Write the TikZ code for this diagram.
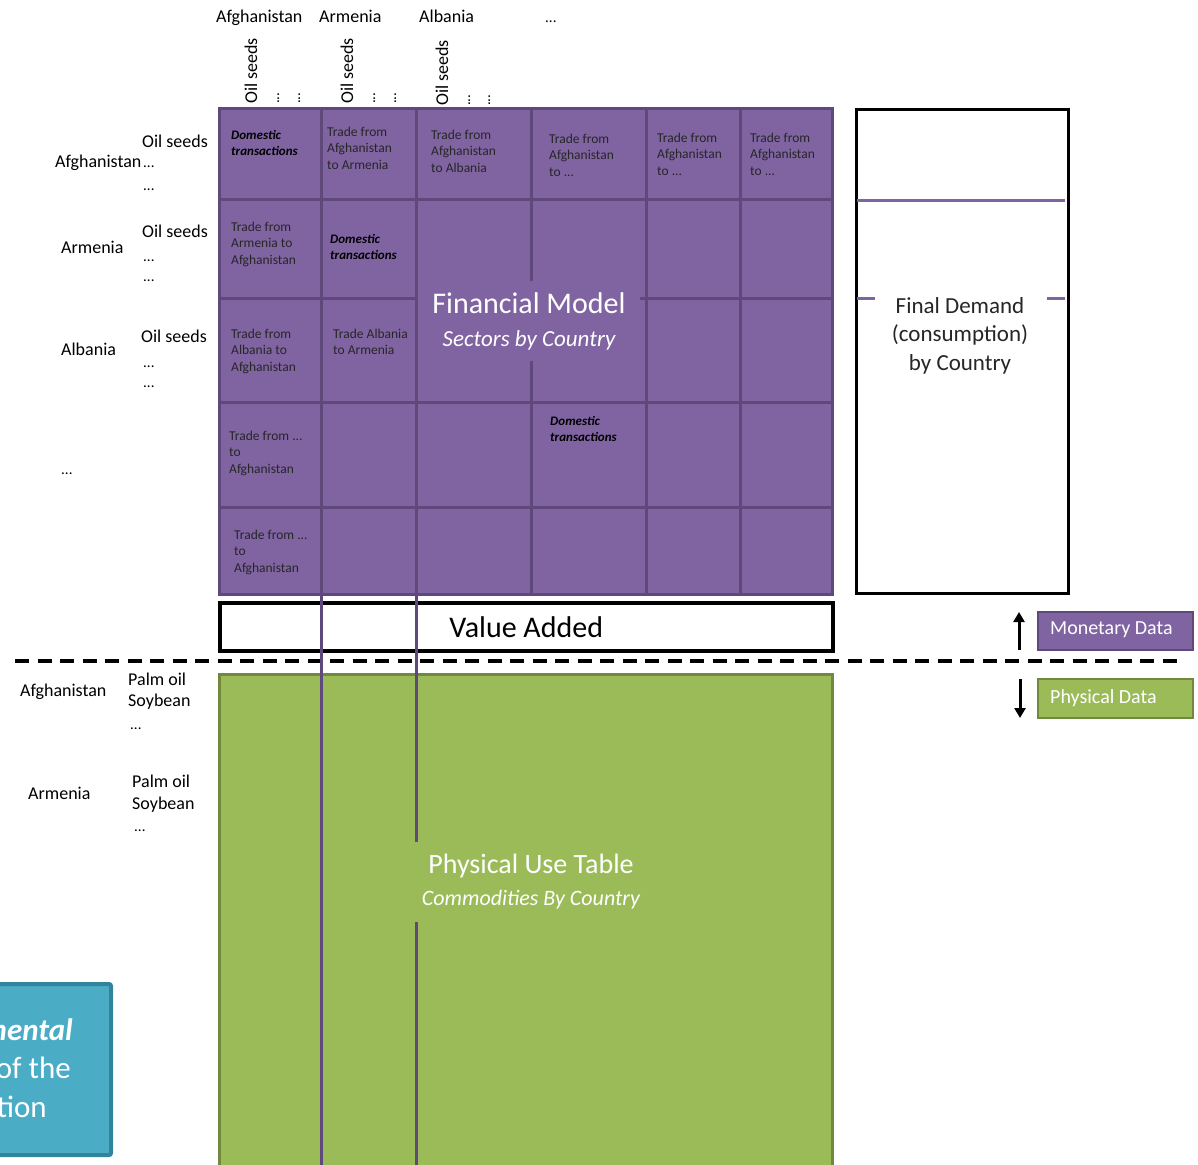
\documentclass[tikz,border=0pt]{standalone}
\usepackage{fontspec}
\setmainfont{Carlito}
\usetikzlibrary{arrows.meta}
\definecolor{fmpurple}{HTML}{8064A2}
\definecolor{fmline}{HTML}{5F497A}
\definecolor{ptgreen}{HTML}{9BBB59}
\definecolor{ptline}{HTML}{71893F}
\definecolor{envblue}{HTML}{4BACC6}
\definecolor{envline}{HTML}{31849B}
\definecolor{txtdark}{HTML}{262626}
\begin{document}
\begin{tikzpicture}[x=1pt,y=-1pt,
  lbl/.style={font=\fontsize{18}{20}\selectfont, anchor=base west, inner sep=0pt, text=black},
  dots/.style={font=\fontsize{15}{18}\selectfont, anchor=base west, inner sep=0pt, text=black},
  rotlbl/.style={lbl, rotate=90},
  rotdots/.style={dots, rotate=90},
  cell/.style={font=\fontsize{13.5}{16.5}\selectfont, align=left, anchor=base west, inner sep=0pt, text=txtdark},
  dom/.style={font=\fontsize{13}{16.5}\selectfont\bfseries\itshape, align=left, anchor=base west, inner sep=0pt, text=black},
  gridline/.style={draw=fmline, line width=3pt},
  vline/.style={draw=fmline, line width=3pt},
  fdline/.style={draw=fmpurple, line width=3pt},
  legtext/.style={anchor=west, inner sep=0pt, text=white, font=\fontsize{20}{24}\selectfont},
  arr/.style={line width=3pt, -{Triangle[length=10pt,width=11pt]}}
]
\useasboundingbox (0,0) rectangle (1198,1164);
\clip (0,0) rectangle (1198,1164);

% ---------- Financial model block ----------
\node (fm) [draw=fmline, line width=3pt, fill=fmpurple, minimum width=613, minimum height=486, inner sep=0pt, anchor=north west] at (218,107) {};
\foreach \x in {321,416,531,646,740} \draw[gridline] (\x,107) -- (\x,593);
\foreach \y in {199,298,402,507} \draw[gridline] (218,\y) -- (831,\y);
\node (fmlabel) [fill=fmpurple, minimum width=222, minimum height=80, inner sep=0pt, align=center, text=white, font=\fontsize{30}{33}\selectfont] at (529,321)
  {Financial Model\\{\fontsize{23}{33}\selectfont\itshape Sectors by Country}};

% cell texts (anchor = baseline of last line)
\node (c11) [dom] at (231,155.5) {Domestic\\transactions};
\node (c12) [cell] at (327,169) {Trade from\\Afghanistan\\to Armenia};
\node (c13) [cell] at (431,172) {Trade from\\Afghanistan\\to Albania};
\node (c14) [cell] at (549,176) {Trade from\\Afghanistan\\to ...};
\node (c15) [cell] at (657,175) {Trade from\\Afghanistan\\to ...};
\node (c16) [cell] at (750,175) {Trade from\\Afghanistan\\to ...};
\node (c21) [cell] at (231,264) {Trade from\\Armenia to\\Afghanistan};
\node (c22) [dom] at (330,259.5) {Domestic\\transactions};
\node (c31) [cell] at (231,371) {Trade from\\Albania to\\Afghanistan};
\node (c32) [cell] at (333,354.5) {Trade Albania\\to Armenia};
\node (c41) [cell] at (229,473) {Trade from ...\\to\\Afghanistan};
\node (c44) [dom] at (550,441.5) {Domestic\\transactions};
\node (c51) [cell] at (234,572) {Trade from ...\\to\\Afghanistan};

% ---------- column headers ----------
\node (hAfg) [lbl] at (216,23) {Afghanistan};
\node (hArm) [lbl] at (319,23) {Armenia};
\node (hAlb) [lbl] at (419,23) {Albania};
\node (hDots) [dots] at (545,23) {...};
\node (hOil1) [rotlbl] at (257,104) {Oil seeds};
\node (hOil2) [rotlbl] at (353,104) {Oil seeds};
\node (hOil3) [rotlbl] at (448,106) {Oil seeds};
\node (hd1a) [rotdots] at (279,104) {...};
\node (hd1b) [rotdots] at (300,104) {...};
\node (hd2a) [rotdots] at (375,104) {...};
\node (hd2b) [rotdots] at (396,104) {...};
\node (hd3a) [rotdots] at (470,106) {...};
\node (hd3b) [rotdots] at (490,106) {...};

% ---------- row headers (financial) ----------
\node (rOil1) [lbl] at (142,147) {Oil seeds};
\node (rAfg) [lbl] at (55,167) {Afghanistan};
\node (rd1a) [dots] at (143,167) {...};
\node (rd1b) [dots] at (143,190) {...};
\node (rOil2) [lbl] at (142,237) {Oil seeds};
\node (rArm) [lbl] at (61,253) {Armenia};
\node (rd2a) [dots] at (143,261) {...};
\node (rd2b) [dots] at (143,281) {...};
\node (rOil3) [lbl] at (141,342) {Oil seeds};
\node (rAlb) [lbl] at (61,355) {Albania};
\node (rd3a) [dots] at (143,367) {...};
\node (rd3b) [dots] at (143,387) {...};
\node (rDots) [dots] at (61,474) {...};

% ---------- Value added ----------
\node (va) [draw=black, line width=3.5pt, fill=white, minimum width=613, minimum height=48, inner sep=0pt, anchor=north west,
  font=\fontsize{30}{32}\selectfont, text=black] at (218,601) {Value Added};

% ---------- Physical use table ----------
\node (put) [draw=ptline, line width=2.5pt, fill=ptgreen, minimum width=613, minimum height=510, inner sep=0pt, anchor=north west] at (218,673) {};

\coordinate (dashL) at (15,661);
\coordinate (dashR) at (1185,661);
\draw[line width=4pt, dash pattern=on 14pt off 8.5pt] (dashL) -- (dashR);

\coordinate (v1t) at (321,593); \coordinate (v1b) at (321,1175);
\coordinate (v2t) at (416,593); \coordinate (v2b) at (416,1175);
\draw[vline] (v1t) -- (v1b);
\draw[vline] (v2t) -- (v2b);

\node (putlabel) [fill=ptgreen, minimum width=242, minimum height=80, inner sep=0pt, align=center, text=white, font=\fontsize{28}{32}\selectfont] at (531,882)
  {Physical Use Table\\{\fontsize{22}{32}\selectfont\itshape Commodities By Country}};

% row headers (physical)
\node (pAfg) [lbl] at (20,696) {Afghanistan};
\node (pPalm1) [lbl] at (128,685) {Palm oil};
\node (pSoy1) [lbl] at (128,706) {Soybean};
\node (pd1) [dots] at (130,729) {...};
\node (pArm) [lbl] at (28,799) {Armenia};
\node (pPalm2) [lbl] at (132,787) {Palm oil};
\node (pSoy2) [lbl] at (132,809) {Soybean};
\node (pd2) [dots] at (134,831) {...};

% ---------- Final demand ----------
\node (fd) [draw=black, line width=3pt, fill=white, minimum width=212, minimum height=484, inner sep=0pt, anchor=north west] at (855,108) {};
\coordinate (fdl1) at (857,200); \coordinate (fdr1) at (1065,200);
\draw[fdline] (fdl1) -- (fdr1);
\coordinate (fdl2) at (857,298); \coordinate (fdl2e) at (875,298);
\coordinate (fdr2s) at (1047,298); \coordinate (fdr2) at (1065,298);
\draw[fdline] (fdl2) -- (fdl2e);
\draw[fdline] (fdr2s) -- (fdr2);
\node (fdtext) [align=center, inner sep=0pt, font=\fontsize{23}{28.5}\selectfont, text=txtdark] at (960,335.5) {Final Demand\\(consumption)\\by Country};

% ---------- Legend ----------
\node (mon) [draw=fmline, line width=2pt, fill=fmpurple, minimum width=155, minimum height=38, inner sep=0pt, anchor=north west] at (1037,611) {};
\node (montext) [legtext] at (1050,630) {Monetary Data};
\node (phy) [draw=ptline, line width=2pt, fill=ptgreen, minimum width=155, minimum height=39, inner sep=0pt, anchor=north west] at (1037,678) {};
\node (phytext) [legtext] at (1050,698) {Physical Data};
\coordinate (upS) at (1019,650); \coordinate (upE) at (1019,612);
\draw[arr] (upS) -- (upE);
\coordinate (dnS) at (1020,679); \coordinate (dnE) at (1020,718);
\draw[arr] (dnS) -- (dnE);

% ---------- Blue box (cut at left edge, as in the reference) ----------
\node (env) [draw=envline, line width=4pt, fill=envblue, rounded corners=2pt, minimum width=150, minimum height=171, inner sep=0pt, anchor=north east] at (113,982) {};
\node (env1) [anchor=base east, inner sep=0pt, text=white, font=\fontsize{31}{36}\selectfont\bfseries\itshape] at (73,1040) {mental};
\node (env2) [anchor=base east, inner sep=0pt, text=white, font=\fontsize{31}{36}\selectfont] at (71,1078) {of the};
\node (env3) [anchor=base east, inner sep=0pt, text=white, font=\fontsize{31}{36}\selectfont] at (47,1117) {tion};
\end{tikzpicture}
\end{document}
